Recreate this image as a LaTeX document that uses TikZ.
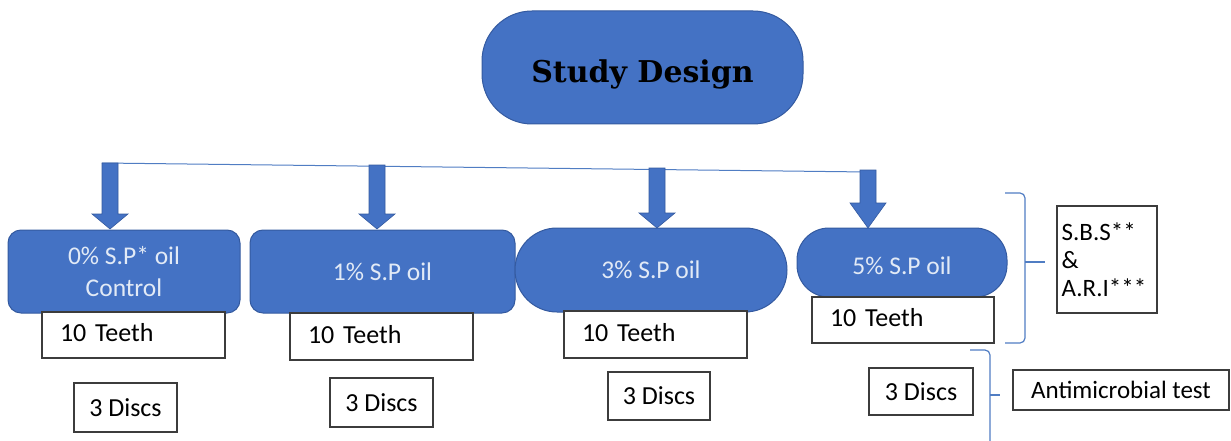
\documentclass[tikz,border=0pt]{standalone}
\usepackage{fontspec}
\setmainfont{Carlito}
\newfontfamily\titlefont{DejaVu Serif}
\definecolor{sdblue}{RGB}{68,114,196}
\definecolor{sdborder}{RGB}{52,90,160}
\definecolor{sdtext}{RGB}{226,234,246}
\definecolor{boxgray}{RGB}{60,60,60}
\definecolor{linblue}{RGB}{80,125,195}
\newcommand\sdarrow[4]{%
  \filldraw[fill=sdblue,draw=sdborder,line width=0.6pt]
    (#1-8,#2) -- (#1+8,#2) -- (#1+8,#3) -- (#1+18,#3) -- (#1,#4)
    -- (#1-18,#3) -- (#1-8,#3) -- cycle;}
\begin{document}
\begin{tikzpicture}[x=1pt,y=-1pt,
  bluebox/.style={draw=sdborder,fill=sdblue,text=sdtext,line width=1pt,
    font=\fontsize{25.5}{32}\selectfont,align=center,inner sep=0pt},
  whitebox/.style={draw=boxgray,fill=white,line width=1.3pt,
    font=\fontsize{26}{30}\selectfont,inner sep=0pt},
  teethbox/.style={whitebox,align=left,inner xsep=18pt,text height=18pt,text depth=5pt},
  bracket/.style={draw=linblue,line width=1.2pt,rounded corners=5pt}]
\useasboundingbox (0,0) rectangle (1231,441);

% title
\node[bluebox,text=black,rounded corners=50pt,minimum width=321pt,minimum height=113pt,
  text height=30pt,text depth=0pt,
  font=\titlefont\fontsize{30}{36}\selectfont\bfseries] (title) at (642.5,67.5) {Study Design};

% distribution line
\coordinate (l0) at (102,163);
\coordinate (l1) at (868,172);
\draw[linblue,line width=1pt] (l0) -- (l1);

% groups
\node[bluebox,rounded corners=13pt,minimum width=232pt,minimum height=83pt] (g0) at (124,271.5) {0\% S.P* oil\\Control};
\node[bluebox,rounded corners=13pt,minimum width=265pt,minimum height=83pt] (g1) at (382.5,271.5) {1\% S.P oil};
\node[bluebox,rounded corners=42pt,minimum width=272pt,minimum height=84pt] (g3) at (651,270) {3\% S.P oil};
\node[bluebox,rounded corners=32pt,minimum width=210pt,minimum height=69pt,
  text height=24pt,text depth=0pt] (g5) at (902,262.5) {5\% S.P oil};

% arrows
\sdarrow{110}{163}{214}{229}
\sdarrow{377}{165}{214}{229}
\sdarrow{657}{168}{213}{228}
\sdarrow{868}{170}{203}{228}

% teeth
\node[teethbox,text width=147pt,minimum height=46pt] (t0) at (133.5,335) {10 Teeth};
\node[teethbox,text width=147pt,minimum height=47pt] (t1) at (381.5,336.5) {10 Teeth};
\node[teethbox,text width=147pt,minimum height=47pt] (t3) at (655.5,334.5) {10 Teeth};
\node[teethbox,text width=146pt,minimum height=46pt] (t5) at (903,320) {10 Teeth};

% discs
\node[whitebox,minimum width=103pt,minimum height=49pt] (d0) at (125.5,407.5) {3 Discs};
\node[whitebox,minimum width=103pt,minimum height=49pt] (d1) at (381.5,402.5) {3 Discs};
\node[whitebox,minimum width=102pt,minimum height=48pt] (d3) at (659,396) {3 Discs};
\node[whitebox,minimum width=104pt,minimum height=47pt] (d5) at (921,391.5) {3 Discs};

% tests
\node[whitebox,align=left,minimum width=100pt,minimum height=107pt,
  font=\fontsize{25}{28}\selectfont] (sbs) at (1107,259.5)
  {S.B.S**\\\&\\A.R.I***\hspace*{6pt}};
\node[whitebox,minimum width=216pt,minimum height=40pt,
  font=\fontsize{25}{30}\selectfont] (anti) at (1121,390) {Antimicrobial test};

% brackets
\draw[bracket] (1005,193) -- (1025,193) -- (1025,343) -- (1005,343);
\draw[bracket] (1025,262) -- (1045,262);
\draw[bracket] (970,350) -- (990,350) -- (990,445);
\draw[bracket] (990,395) -- (1000,395);
\end{tikzpicture}
\end{document}
